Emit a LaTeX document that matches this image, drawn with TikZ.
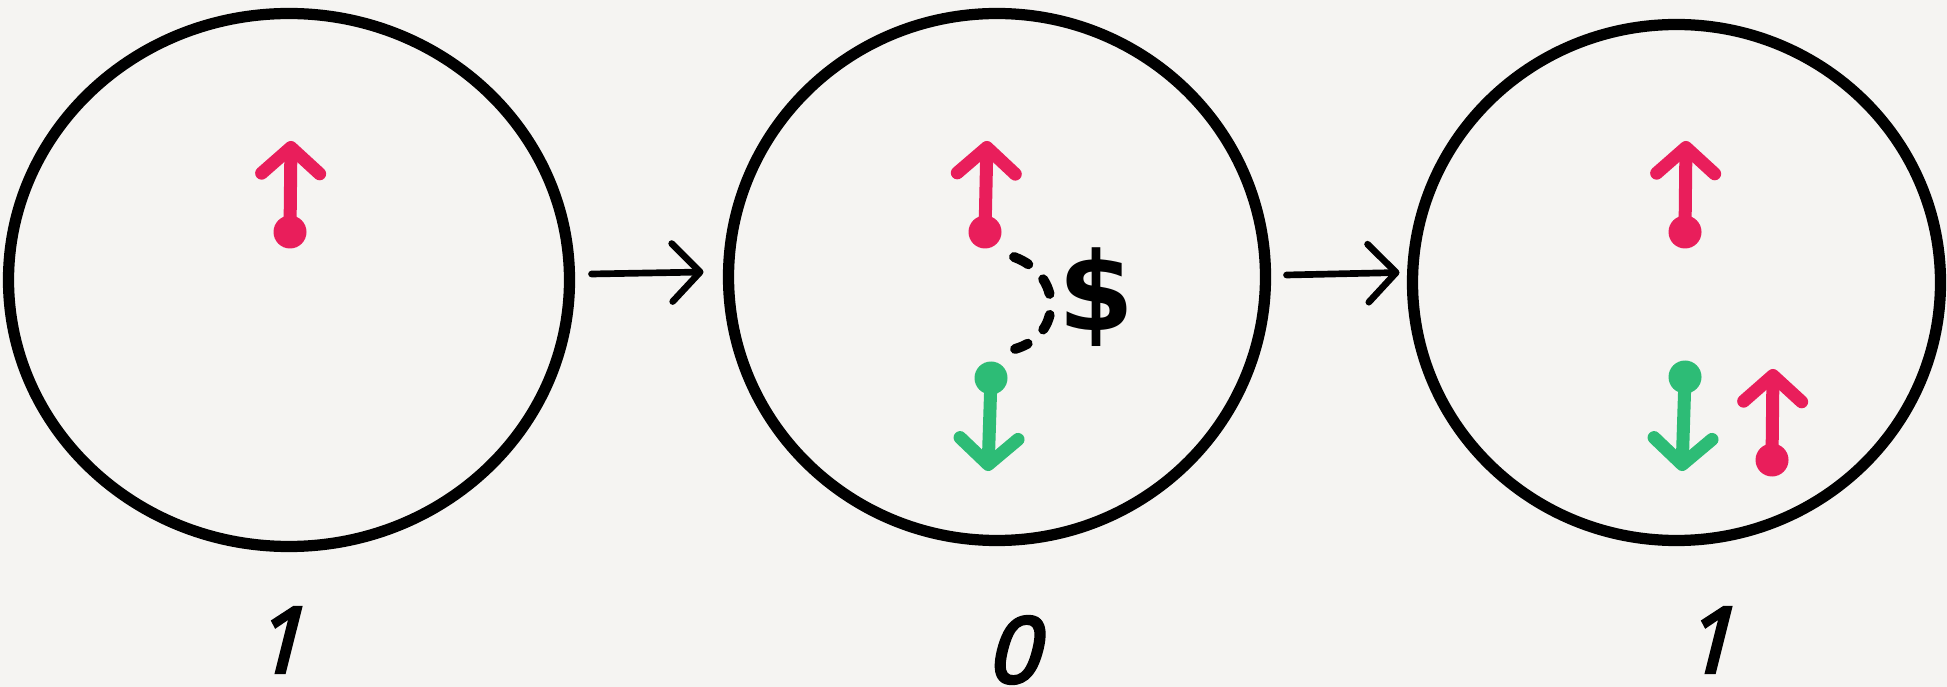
\documentclass[tikz,border=0pt]{standalone}
\usepackage{fontspec}
\setmainfont{DejaVu Sans}
\newfontfamily\lblfont[FakeSlant=0.25, FakeBold=3.5]{Noto Sans}
\usetikzlibrary{shapes.geometric,arrows.meta,calc}
\definecolor{bg}{HTML}{F5F4F2}
\definecolor{spinpink}{HTML}{E91E5B}
\definecolor{spingreen}{HTML}{2DBC76}
\begin{document}
\begin{tikzpicture}[x=0.1mm,y=-0.1mm,
  ring/.style={ellipse, draw=black, line width=3.2pt, inner sep=0pt, outer sep=0pt},
  conn/.style={line width=1.9pt, line cap=round, -{Straight Barb[length=2.8mm,width=5.8mm,round]}},
  spin/.style={line width=3.7pt, line cap=round, -{Straight Barb[length=2.6mm,width=5.8mm,round]}},
  lbl/.style={font=\lblfont\fontsize{26pt}{26pt}\selectfont, inner sep=0pt},
  dashcurve/.style={line width=2.8pt, line cap=round, dash pattern=on 4.6pt off 6pt}]
\fill[bg] (0,0) rectangle (1947,687);
\useasboundingbox (0,0) rectangle (1947,687);

% circles
\node[ring, minimum width=56.1mm, minimum height=53.3mm] (c1) at (289,280) {};
\node[ring, minimum width=53.7mm, minimum height=52.7mm] (c2) at (997,277) {};
\node[ring, minimum width=52.8mm, minimum height=51.6mm] (c3) at (1676.5,282.5) {};

% connectors
\draw[conn] ($(c1.east)+(22,-6)$) -- ($(c2.west)+(-25,-5)$);
\draw[conn] ($(c2.east)+(21,-2)$) -- ($(c3.west)+(-13,-10)$);

% left circle
\fill[spinpink] (290,232) circle (1.65mm);
\draw[spin, spinpink] (290,232) -- (291,141);

% middle circle
\fill[spinpink] (985,232) circle (1.65mm);
\draw[spin, spinpink] (985,232) -- (987,141);
\fill[spingreen] (991,378) circle (1.65mm);
\draw[spin, spingreen] (991,378) -- (988,471);
\draw[dashcurve] (1014,257) .. controls (1063,275) and (1063,335) .. (1015,349);
\node[font=\bfseries\fontsize{31pt}{31pt}\selectfont, inner sep=0pt] (dollar) at (1096,297) {\$};

% right circle
\fill[spinpink] (1685,232) circle (1.65mm);
\draw[spin, spinpink] (1685,232) -- (1686,141);
\fill[spingreen] (1685,377) circle (1.65mm);
\draw[spin, spingreen] (1685,377) -- (1682,471);
\fill[spinpink] (1772,460) circle (1.65mm);
\draw[spin, spinpink] (1772,460) -- (1773,369);

% labels
\node[lbl] (l1) at (278,640) {1};
\node[lbl] (l2) at (1012,650) {0};
\node[lbl] (l3) at (1708,640) {1};
\end{tikzpicture}
\end{document}
